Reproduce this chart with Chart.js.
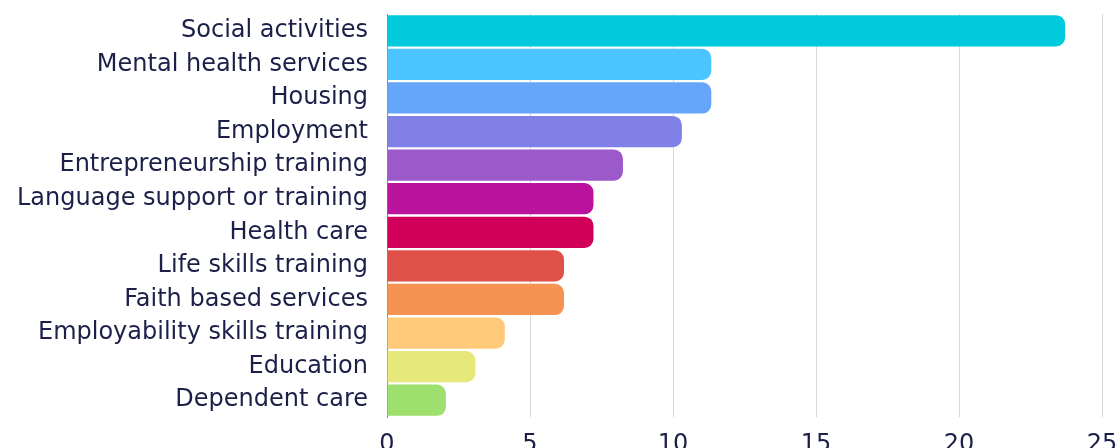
<!DOCTYPE html>
<html>
<head>
<meta charset="utf-8">
<script src="https://cdn.jsdelivr.net/npm/chart.js@4/dist/chart.umd.min.js"></script>
<style>
  html, body { margin: 0; padding: 0; background: #fff; overflow: hidden; }
  #wrap { width: 1118px; height: 470px; position: relative; }
</style>
</head>
<body>
<div id="wrap"><canvas id="chart"></canvas></div>
<script>
const categories = [
  'Social activities', 'Mental health services', 'Housing', 'Employment',
  'Entrepreneurship training', 'Language support or training', 'Health care',
  'Life skills training', 'Faith based services', 'Employability skills training',
  'Education', 'Dependent care'
];
const values = [23.71, 11.34, 11.34, 10.31, 8.25, 7.22, 7.22, 6.19, 6.19, 4.12, 3.09, 2.06];
const barColors = [
  '#00cadc', '#4bc4ff', '#66a6f8', '#8080e6', '#9b59c9', '#bb139e',
  '#d0005a', '#df5148', '#f79352', '#ffca7a', '#e6e87a', '#9de06e'
];
const xTicks = [0, 5, 10, 15, 20, 25];

const textColor = '#1c2048';
const FONT = "'DejaVu Sans', sans-serif";

new Chart(document.getElementById('chart'), {
  type: 'bar',
  data: {
    labels: categories,
    datasets: [{
      data: values,
      backgroundColor: barColors,
      borderRadius: { topRight: 9, bottomRight: 9 },
      borderSkipped: false,
      barPercentage: 0.93,
      categoryPercentage: 1
    }]
  },
  options: {
    indexAxis: 'y',
    responsive: true, maintainAspectRatio: false,
    animation: false,
    layout: { padding: { top: 14, right: 16, left: 0, bottom: 0 } },
    plugins: { legend: { display: false }, tooltip: { enabled: false } },
    scales: {
      x: {
        min: 0, max: 25,
        afterBuildTicks: s => { s.ticks = xTicks.map(v => ({ value: v })); },
        afterFit: s => { s.height = 53; s.paddingLeft = 0; s.paddingRight = 0; },
        ticks: { color: textColor, font: { family: FONT, size: 24 }, padding: 13, maxRotation: 0 },
        grid: { color: '#d6d6e0', lineWidth: 1, drawTicks: false },
        border: { display: false }
      },
      y: {
        afterFit: s => { s.width = 387; s.paddingTop = 0; s.paddingBottom = 0; },
        ticks: { color: textColor, font: { family: FONT, size: 24 }, padding: 11, autoSkip: false },
        grid: { display: false },
        border: { display: true, color: '#888a99', width: 1 }
      }
    }
  }
});
</script>
</body>
</html>
